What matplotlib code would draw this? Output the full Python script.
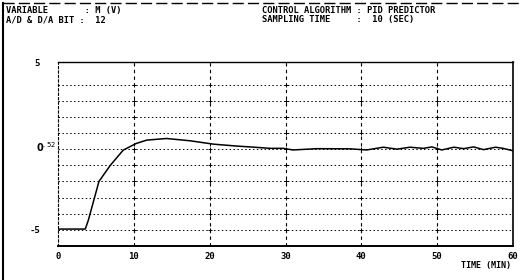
import matplotlib.pyplot as plt
import numpy as np

# data
t = [0, 3.6, 4.0, 4.7, 5.4, 6.9, 8.6, 10.3, 11.7, 14.3, 17.4, 20.5, 23.6, 25.3,
     28.0, 29.7, 31.0, 34.1, 38.5, 40.7, 42.9, 44.7, 46.4, 48.2, 49.3, 50.6,
     52.2, 53.5, 54.8, 56.1, 57.7, 58.7, 60.0]
m = [-4.95, -4.95, -4.4, -3.2, -2.0, -1.0, -0.06, 0.35, 0.56, 0.66, 0.52, 0.31, 0.19, 0.14,
     0.05, 0.05, -0.05, 0.03, 0.02, -0.05, 0.12, 0.0, 0.12, 0.05, 0.14, -0.05,
     0.12, 0.03, 0.14, -0.03, 0.12, 0.05, -0.1]

x_ticks = [0, 10, 20, 30, 40, 50, 60]
h_grid = [-5, -4, -3, -2, -1, 0, 1, 2, 3, 4]
v_grid = [10, 20, 30, 40, 50]

mono = dict(family='DejaVu Sans Mono', fontweight='bold', color='black')

fig = plt.figure(figsize=(5.24, 2.8), dpi=100)
ax = fig.add_axes([0.1107, 0.1214, 0.8683, 0.6572])

for y in h_grid:
    ax.axhline(y, color='black', linestyle=(0, (1.5, 2.5)), linewidth=0.7)
for x in v_grid:
    ax.axvline(x, color='black', linestyle=(0, (3, 3)), linewidth=0.8)
    ax.plot([x] * len(h_grid), h_grid, '+', color='black', ms=3, mew=0.7)

ax.plot(t, m, color='black', linewidth=1.1)

ax.set_xlim(0, 60)
ax.set_ylim(-6, 5.4)
ax.set_xticks(x_ticks, [str(v) for v in x_ticks], fontsize=6.5, **mono)
ax.set_yticks([-5, 5.35], ['-5', '5'], fontsize=6.5, **mono)
ax.tick_params(length=0, pad=4)
ax.tick_params(axis='y', pad=13)
ax.text(-0.2, 0.15, r'$\mathbf{0}^{.52}$', ha='right', va='center', fontsize=7,
        family='DejaVu Sans Mono', color='black')

ax.spines['left'].set_linestyle((0, (2, 2)))
ax.spines['left'].set_linewidth(0.8)
ax.spines['top'].set_linewidth(1.0)
ax.spines['bottom'].set_linewidth(1.4)
ax.spines['right'].set_linewidth(1.2)

fig.text(0.975, 0.035, 'TIME (MIN)', ha='right', va='bottom', fontsize=6, **mono)

fig.text(0.012, 0.962, 'VARIABLE       : M (V)', ha='left', va='center', fontsize=6.3, **mono)
fig.text(0.012, 0.930, 'A/D & D/A BIT :  12', ha='left', va='center', fontsize=6.3, **mono)
fig.text(0.50, 0.962, 'CONTROL ALGORITHM : PID PREDICTOR', ha='left', va='center', fontsize=6.3, **mono)
fig.text(0.50, 0.930, 'SAMPLING TIME     :  10 (SEC)', ha='left', va='center', fontsize=6.3, **mono)

# outer frame of the scan
fig.add_artist(plt.Line2D([0.005, 0.005], [0.0, 0.99], color='black', lw=1.5))
fig.add_artist(plt.Line2D([0.005, 0.995], [0.99, 0.99], color='black', lw=1.0, linestyle=(0, (8, 3))))

fig.savefig('out.png', dpi=100)
